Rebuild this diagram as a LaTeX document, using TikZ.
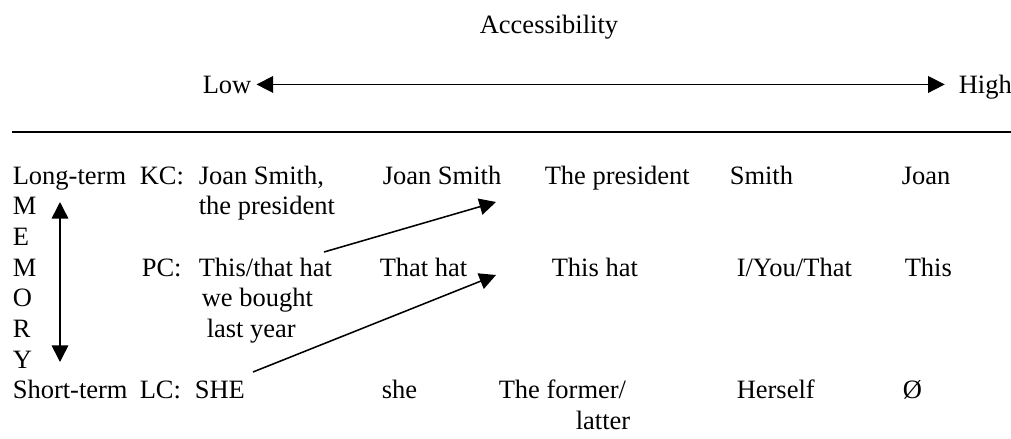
\documentclass[tikz,border=0pt]{standalone}
\usepackage{fontspec}
\setmainfont{Liberation Serif}
\usetikzlibrary{arrows.meta}

\begin{document}
\begin{tikzpicture}[x=0.4528pt, y=-0.4528pt, line width=0.7pt,
    every node/.style={inner sep=0pt, anchor=base west, font=\fontsize{12}{14}\selectfont},
    tip/.style={-{Triangle[length=7.5pt, width=7.5pt]}},
    dtip/.style={{Triangle[length=7.5pt, width=7.5pt]}-{Triangle[length=7.5pt, width=7.5pt]}}]
  \useasboundingbox (0,0) rectangle (1011,438);

  % scale on top
  \node[anchor=base] (acc) at (549,33) {Accessibility};
  \node (low) at (202,93) {Low};
  \node (high) at (958,93) {High};
  \draw[dtip] ([xshift=2pt]low.east) -- ([xshift=-6pt]low.east -| high.west);
  \draw (12,132) -- (1011,132);

  % memory axis
  \node (long) at (12,184) {Long-term};
  \foreach \l [count=\i] in {M,E,M,O,R,Y}
    \node (mem\i) at (12,{184+30.7*\i}) {\l};
  \node (short) at (12,398.9) {Short-term};
  \coordinate (up) at (60,202);
  \coordinate (dn) at (60,362);
  \draw[dtip] (up) -- (dn);

  % KC row
  \node (kc) at (139,184) {KC:};
  \node (kc1) at (198,184) {Joan Smith,};
  \node (kc1b) at (198,214.7) {the president};
  \node (kc2) at (382,184) {Joan Smith};
  \node (kc3) at (544,184) {The president};
  \node (kc4) at (729,184) {Smith};
  \node (kc5) at (901,184) {Joan};

  % PC row
  \node (pc) at (141,276.1) {PC:};
  \node (pc1) at (198,276.1) {This/that hat};
  \node (pc1b) at (201,306.8) {we bought};
  \node (pc1c) at (206,337.5) {last year};
  \node (pc2) at (379,276.1) {That hat};
  \node (pc3) at (551,276.1) {This hat};
  \node (pc4) at (736,276.1) {I/You/That};
  \node (pc5) at (904,276.1) {This};

  % LC row
  \node (lc) at (139,398.9) {LC:};
  \node (lc1) at (194,398.9) {SHE};
  \node (lc2) at (381,398.9) {she};
  \node (lc3) at (498,398.9) {The former/};
  \node (lc3b) at (575,429.6) {latter};
  \node (lc4) at (736,398.9) {Herself};
  \node (lc5) at (902,398.9) {Ø};

  % shifts
  \coordinate (pcout) at (324,252);
  \coordinate (kcin) at (496,202);
  \coordinate (lcout) at (253,372);
  \coordinate (pcin) at (496,275);
  \draw[tip] (pcout) -- (kcin);
  \draw[tip] (lcout) -- (pcin);
\end{tikzpicture}
\end{document}
